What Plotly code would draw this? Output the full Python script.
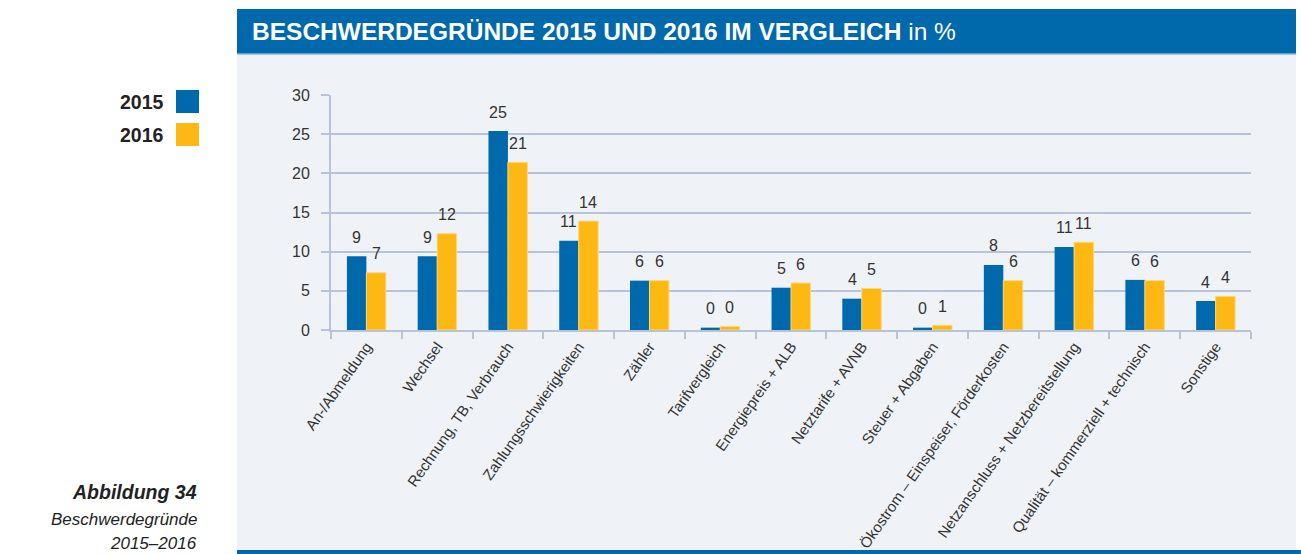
import plotly.graph_objects as go

# Beschwerdegründe 2015 und 2016 (in %)
categories = [
    "An-/Abmeldung",
    "Wechsel",
    "Rechnung, TB, Verbrauch",
    "Zahlungsschwierigkeiten",
    "Zähler",
    "Tarifvergleich",
    "Energiepreis + ALB",
    "Netztarife + AVNB",
    "Steuer + Abgaben",
    "Ökostrom – Einspeiser, Förderkosten",
    "Netzanschluss + Netzbereitstellung",
    "Qualität – kommerziell + technisch",
    "Sonstige",
]
values_2015 = [9.4, 9.4, 25.4, 11.4, 6.3, 0.3, 5.4, 4.0, 0.3, 8.3, 10.6, 6.4, 3.7]
values_2016 = [7.3, 12.3, 21.4, 13.9, 6.3, 0.45, 6.0, 5.3, 0.6, 6.3, 11.2, 6.3, 4.3]
series_names = ["2015", "2016"]
y_ticks = [0, 5, 10, 15, 20, 25, 30]

BLUE = "#0069AC"
ORANGE = "#FDB813"
PANEL = "#EFF3F8"
GRID = "#B9C3D8"
TEXT = "#333333"
FONT = "Liberation Sans, Arial, sans-serif"

W, H = 1301, 554
L, R, T, B = 331, 50, 95, 224
PW, PH = W - L - R, H - T - B


def px_x(x):
    return (x - L) / PW


def px_y(y):
    return (H - B - y) / PH


fig = go.Figure()
fig.add_trace(go.Bar(x=categories, y=values_2015, name=series_names[0],
                     marker=dict(color=BLUE, line=dict(width=0))))
fig.add_trace(go.Bar(x=categories, y=values_2016, name=series_names[1],
                     marker=dict(color=ORANGE, line=dict(color="#FDD77A", width=1))))

# value labels above each bar, rounded to whole percent
bar_half = PW / len(categories) * (1 - 0.45) / 4
annotations = []
for vals, sign in ((values_2015, -1), (values_2016, 1)):
    for c, v in zip(categories, vals):
        annotations.append(dict(
            x=c, y=v, xref="x", yref="y", text=f"{v:.0f}", showarrow=False,
            xshift=sign * bar_half, yshift=19, yanchor="middle",
            font=dict(size=16, color=TEXT, family=FONT),
        ))

# title bar text
annotations.append(dict(
    x=px_x(250), y=px_y(31), xref="paper", yref="paper", xanchor="left", yanchor="middle",
    text="<b>BESCHWERDEGRÜNDE 2015 UND 2016 IM VERGLEICH</b> in %", showarrow=False,
    font=dict(size=24.5, color="white", family=FONT),
))

# legend (labels left of the swatches)
for name, yc in zip(series_names, (101.5, 134.5)):
    annotations.append(dict(
        x=px_x(166), y=px_y(yc), xref="paper", yref="paper", xanchor="right", yanchor="middle",
        text=f"<b>{name}</b>", showarrow=False,
        font=dict(size=19.5, color="#222222", family=FONT),
    ))

# figure caption
caption = [("<b><i>Abbildung 34</i></b>", 492, 19.5), ("<i>Beschwerdegründe</i>", 519, 17),
           ("<i>2015–2016</i>", 543, 17)]
for txt, yc, size in caption:
    annotations.append(dict(
        x=px_x(199), y=px_y(yc), xref="paper", yref="paper", xanchor="right", yanchor="middle",
        text=txt, showarrow=False,
        font=dict(size=size, color="#222222", family=FONT),
    ))

shapes = [
    # light panel behind the chart
    dict(type="rect", xref="paper", yref="paper", layer="below",
         x0=px_x(237), x1=px_x(1296), y0=px_y(550), y1=px_y(54),
         fillcolor=PANEL, line=dict(width=0)),
    # title bar
    dict(type="rect", xref="paper", yref="paper", layer="below",
         x0=px_x(237), x1=px_x(1296), y0=px_y(53), y1=px_y(9),
         fillcolor=BLUE, line=dict(width=0)),
    dict(type="rect", xref="paper", yref="paper", layer="below",
         x0=px_x(237), x1=px_x(1296), y0=px_y(54.5), y1=px_y(53),
         fillcolor="#5F9BCB", line=dict(width=0)),
    # bottom rule
    dict(type="rect", xref="paper", yref="paper", layer="below",
         x0=px_x(237), x1=px_x(1301), y0=px_y(556), y1=px_y(550),
         fillcolor=BLUE, line=dict(width=0)),
    # legend swatches
    dict(type="rect", xref="paper", yref="paper",
         x0=px_x(176), x1=px_x(199), y0=px_y(113), y1=px_y(90),
         fillcolor=BLUE, line=dict(width=0)),
    dict(type="rect", xref="paper", yref="paper",
         x0=px_x(176), x1=px_x(199), y0=px_y(146), y1=px_y(123),
         fillcolor=ORANGE, line=dict(width=0)),
]

fig.update_layout(
    width=W, height=H,
    margin=dict(l=L, r=R, t=T, b=B, pad=0, autoexpand=False),
    paper_bgcolor="white",
    plot_bgcolor="rgba(0,0,0,0)",
    barmode="group", bargap=0.45, bargroupgap=0,
    showlegend=False,
    font=dict(family=FONT, color=TEXT),
    annotations=annotations,
    shapes=shapes,
)
fig.update_xaxes(
    type="category", tickangle=-55, tickson="boundaries", automargin=False,
    ticks="outside", ticklen=7, tickcolor=GRID, tickwidth=1.5,
    showline=True, linecolor=GRID, linewidth=2,
    showgrid=False,
    tickfont=dict(size=15, color=TEXT),
)
fig.update_yaxes(
    range=[0, 30], tickvals=y_ticks, automargin=False,
    ticks="outside", ticklen=8, tickcolor=GRID, tickwidth=2,
    showline=True, linecolor=GRID, linewidth=2,
    showgrid=True, gridcolor=GRID, gridwidth=2,
    zeroline=False,
    tickfont=dict(size=16, color=TEXT),
    ticklabelstandoff=8,
)

fig.write_html("out.html")
